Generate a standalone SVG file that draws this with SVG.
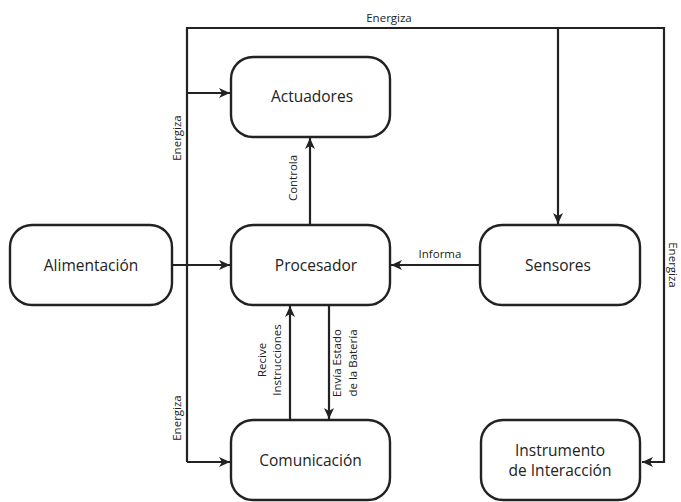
<svg xmlns="http://www.w3.org/2000/svg" width="681" height="502" viewBox="0 0 681 502">
<style>
.box{fill:#fff;stroke:#222;stroke-width:2.4}
.t{font-family:"Open Sans","Noto Sans",sans-serif;font-size:15.5px;fill:#222;text-anchor:middle}
.l{font-family:"Open Sans","Noto Sans",sans-serif;font-size:11.5px;fill:#222;text-anchor:middle}
.c{fill:none;stroke:#222;stroke-width:2.2}
</style>
<defs>
<marker id="a" markerWidth="12" markerHeight="10" refX="11" refY="5" orient="auto" markerUnits="userSpaceOnUse">
<path d="M0,0 L11,5 L0,10 L3,5 Z" fill="#222"/>
</marker>
</defs>
<g id="connectors">
<path class="c" d="M187,462 V28 H664 V462 H642" marker-end="url(#a)"/>
<path class="c" d="M558,28 V224" marker-end="url(#a)"/>
<path class="c" d="M187,93 H230" marker-end="url(#a)"/>
<path class="c" d="M187,462 H230" marker-end="url(#a)"/>
<path class="c" d="M172,265 H230" marker-end="url(#a)"/>
<path class="c" d="M310,225 V138" marker-end="url(#a)"/>
<path class="c" d="M480,265 H391" marker-end="url(#a)"/>
<path class="c" d="M290,420 V306" marker-end="url(#a)"/>
<path class="c" d="M329,305 V419" marker-end="url(#a)"/>
<text class="l" x="389" y="22">Energiza</text>
<text class="l" transform="translate(181,138) rotate(-90)">Energiza</text>
<text class="l" transform="translate(181,418) rotate(-90)">Energiza</text>
<text class="l" transform="translate(669,265) rotate(90)">Energiza</text>
<text class="l" transform="translate(297,178) rotate(-90)">Controla</text>
<text class="l" x="440" y="258">Informa</text>
<text class="l" transform="translate(266,360) rotate(-90)">Recive</text>
<text class="l" transform="translate(281,360) rotate(-90)">Instrucciones</text>
<text class="l" transform="translate(341,363) rotate(-90)">Envía Estado</text>
<text class="l" transform="translate(357,363) rotate(-90)">de la Batería</text>
</g>
<g id="actuadores"><rect class="box" x="231" y="57" width="159" height="80" rx="22"/><text class="t" x="312" y="102">Actuadores</text></g>
<g id="alimentacion"><rect class="box" x="10" y="225" width="162" height="80" rx="22"/><text class="t" x="91" y="271">Alimentación</text></g>
<g id="procesador"><rect class="box" x="231" y="225" width="159" height="80" rx="22"/><text class="t" x="316" y="271">Procesador</text></g>
<g id="sensores"><rect class="box" x="480" y="225" width="160" height="80" rx="22"/><text class="t" x="558" y="271">Sensores</text></g>
<g id="comunicacion"><rect class="box" x="231" y="420" width="159" height="80" rx="22"/><text class="t" x="310.5" y="466">Comunicación</text></g>
<g id="instrumento"><rect class="box" x="481" y="420" width="159" height="80" rx="22"/><text class="t" x="560" y="456">Instrumento</text><text class="t" x="560" y="476">de Interacción</text></g>
</svg>
